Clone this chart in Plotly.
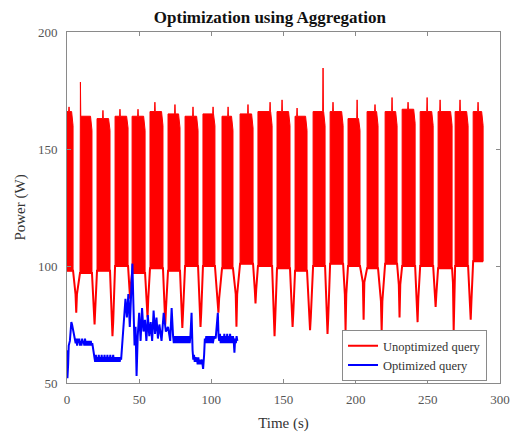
import plotly.graph_objects as go

# ---- Unoptimized query: high-power bursts (s, W) ----
burst_start = [0.0, 9.0, 20.8, 33.3, 45.1, 57.5, 70.0, 81.8, 94.2, 107.4, 119.9, 132.3,
               145.5, 158.0, 170.5, 182.3, 194.7, 207.9, 220.4, 232.2, 244.7, 257.1, 268.9, 281.4]
burst_end = [4.2, 17.3, 29.8, 42.3, 54.1, 66.5, 78.3, 90.8, 102.5, 115.0, 128.9, 142.1,
             154.5, 166.3, 178.8, 191.3, 203.0, 215.5, 228.7, 241.2, 253.7, 266.8, 277.9, 288.3]
burst_body = [166, 164, 163, 164, 164, 166, 165, 164, 165, 164, 165, 166,
              166, 164, 166, 166, 163, 166, 166, 167, 166, 166, 166, 166]
burst_tail = [160, 158, 158, 159, 158, 160, 159, 158, 160, 158, 159, 160,
              160, 158, 160, 160, 158, 160, 160, 161, 160, 160, 160, 160]
burst_peak = [168, 178.6, 166.5, 167, 167, 170, 169, 168, 168, 168, 169, 170,
              171, 167.5, 184.6, 170, 171, 169, 172, 170, 172, 171, 171, 170]
peak_time = [1.4, 9.3, 24.9, 36.7, 49.2, 60.9, 74.8, 87.3, 101.2, 111.6, 125.4, 140.7,
             149.0, 159.4, 177.4, 184.3, 201.0, 213.4, 225.2, 236.3, 249.5, 258.5, 272.3, 284.8]
burst_floor = [98, 97, 98, 100, 97, 99, 98, 100, 100, 99, 101, 100,
               99, 98, 100, 101, 100, 99, 101, 100, 100, 99, 100, 102]

# ---- Unoptimized query: idle dips between bursts ----
dip_time = [6.4, 19.1, 31.5, 43.7, 55.8, 68.1, 79.9, 92.5, 104.9, 117.4, 130.6, 143.8,
            156.3, 168.4, 180.5, 193.0, 205.5, 218.0, 230.4, 242.9, 255.4, 267.9, 279.7]
dip_hold = [88, 82, 76, 92, 86, 82, 80, 80, 86, 88, 90, 78,
            80, 78, 78, 88, 93, 85, 92, 86, 88, 93, 85]
dip_low = [80, 75, 70, 86, 78, 75, 73.5, 74, 80, 74, 84, 70,
           74, 72.6, 71, 72.6, 77, 72, 78, 76, 82.5, 72, 77]

# ---- Optimized query trace (s, W) ----
opt_time = [0.0, 0.3, 0.8, 1.2, 2.0, 2.5, 3.0, 3.5, 4.0, 4.5, 5.0, 5.5, 6.0, 6.5, 7.0, 7.5,
            8.0, 8.5, 9.0, 9.5, 10.0, 10.5, 11.0, 11.5, 12.0, 12.5, 13.0, 13.5, 14.0, 14.5,
            15.0, 15.5, 16.0, 16.5, 17.0, 17.5, 18.2, 19.0, 19.5, 20.0, 20.5, 21.0, 21.5,
            22.0, 22.5, 23.0, 23.5, 24.0, 24.5, 25.0, 25.5, 26.0, 26.5, 27.0, 27.5, 28.0,
            28.5, 29.0, 29.5, 30.0, 30.5, 31.0, 31.5, 32.0, 32.5, 33.0, 33.5, 34.0, 34.5,
            35.0, 35.5, 36.0, 36.5, 37.0, 37.5, 38.5, 39.5, 40.5, 41.5, 42.5, 43.5, 44.5,
            45.3, 46.0, 46.8, 47.5, 48.2, 49.0, 50.0, 51.0, 52.0, 53.0, 54.0, 55.0, 56.0,
            57.0, 58.0, 59.0, 60.0, 61.0, 62.0, 63.0, 64.0, 65.5, 67.0, 68.5, 70.0, 71.5,
            72.5, 73.5, 74.0, 74.5, 75.0, 75.5, 76.0, 76.5, 77.0, 77.5, 78.0, 78.5, 79.0,
            79.5, 80.0, 80.5, 81.0, 81.5, 82.0, 82.5, 83.0, 83.5, 84.0, 84.5, 85.0, 85.5,
            86.3, 87.0, 87.5, 88.0, 88.5, 89.0, 89.5, 90.0, 90.5, 91.0, 91.5, 92.0, 92.5,
            93.5, 94.3, 95.0, 95.5, 96.0, 96.5, 97.0, 97.5, 98.0, 98.5, 99.0, 99.5, 100.0,
            100.5, 101.0, 102.0, 103.0, 104.0, 104.5, 105.0, 105.5, 106.0, 106.5, 107.0,
            107.5, 108.0, 108.5, 109.0, 109.5, 110.0, 110.5, 111.0, 111.5, 112.0, 112.5,
            113.0, 113.5, 114.0, 114.5, 115.0, 115.5, 116.0, 116.5, 117.0, 117.5, 118.0]
opt_power = [64, 52, 58, 66, 68, 74, 76, 75, 73, 72, 70, 69, 67, 69, 66, 69, 67, 69,
             66, 68, 66, 69, 67, 68, 66, 69, 66, 68, 66, 68, 66, 68, 66, 68, 66, 67,
             63, 61, 59, 62, 59, 61, 59, 62, 59, 61, 59, 62, 59, 61, 59, 62, 59, 61,
             59, 62, 59, 61, 59, 62, 59, 61, 59, 62, 59, 61, 59, 61, 59, 61, 59, 61,
             59, 61, 60, 68, 80, 86, 78, 88, 74, 92, 101, 84, 66, 74, 53, 70, 80, 68,
             82, 72, 77, 68, 79, 70, 76, 68, 81, 71, 78, 69, 75, 68, 80, 72, 74, 68,
             82, 70, 67, 70, 67, 70, 67, 70, 67, 70, 67, 70, 67, 70, 67, 70, 67, 70,
             67, 70, 67, 70, 67, 70, 67, 70, 80, 64, 60, 62, 59, 61, 59, 61, 58, 61,
             58, 60, 58, 60, 56, 62, 69, 67, 70, 67, 70, 67, 70, 67, 70, 67, 70, 67,
             70, 69, 77, 80, 70, 68, 71, 67, 70, 67, 70, 67, 71, 67, 70, 67, 71, 67,
             70, 67, 71, 67, 70, 67, 70, 68, 63, 69, 67, 70, 68, 70, 69]

# Build the burst envelopes (filled) and the connecting idle path.
env_x, env_y = [], []
for s, e, b, tl, p, pt, f in zip(burst_start, burst_end, burst_body, burst_tail,
                                 burst_peak, peak_time, burst_floor):
    env_x += [s, s, pt - 0.25, pt, pt + 0.25, e - 1.0, e, e, s, None]
    env_y += [f, b, b, p, b, b, tl, f, f, None]

path_x, path_y = [], []
for i in range(len(burst_start)):
    path_x += [burst_start[i], burst_end[i]]
    path_y += [burst_floor[i], burst_floor[i]]
    if i < len(dip_time):
        path_x += [dip_time[i] - 0.5, dip_time[i], dip_time[i] + 0.5]
        path_y += [dip_hold[i], dip_low[i], dip_hold[i]]

RED = "#ff0000"
BLUE = "#0000ff"
FONT = "Liberation Serif"

fig = go.Figure()
fig.add_trace(go.Scatter(x=env_x, y=env_y, mode="lines", fill="toself",
                         fillcolor=RED, line=dict(color=RED, width=1),
                         showlegend=False, hoverinfo="skip"))
fig.add_trace(go.Scatter(x=path_x, y=path_y, mode="lines",
                         line=dict(color=RED, width=2),
                         name="Unoptimized query"))
fig.add_trace(go.Scatter(x=opt_time, y=opt_power, mode="lines",
                         line=dict(color=BLUE, width=2),
                         name="Optimized query"))

axis_common = dict(showline=True, linecolor="#8a8a8a", linewidth=1, mirror="ticks",
                   ticks="inside", ticklen=4, tickcolor="#8a8a8a", showgrid=False,
                   zeroline=False, automargin=False,
                   tickfont=dict(family=FONT, size=13, color="#555555"))

fig.update_layout(
    width=512, height=432,
    margin=dict(l=67, r=12, t=32, b=49),
    paper_bgcolor="white", plot_bgcolor="white",
    title=dict(text="<b>Optimization using Aggregation</b>", x=0.527, xanchor="center",
               y=0.961, yanchor="middle",
               font=dict(family=FONT, size=17, color="#111111")),
    xaxis=dict(range=[0, 300], tickvals=[0, 50, 100, 150, 200, 250, 300],
               ticklabelstandoff=4,
               title=dict(text="Time (s)", font=dict(family=FONT, size=15, color="#333333"),
                          standoff=12),
               **axis_common),
    yaxis=dict(range=[50, 200], tickvals=[50, 100, 150, 200],
               ticklabelstandoff=6,
               title=dict(text="Power (W)", font=dict(family=FONT, size=15, color="#333333"),
                          standoff=8),
               **axis_common),
    legend=dict(x=0.97, xanchor="right", y=0.005, yanchor="bottom",
                bgcolor="white", bordercolor="#8a8a8a", borderwidth=1,
                font=dict(family=FONT, size=12.5, color="#333333"),
                tracegroupgap=0, itemwidth=30),
    showlegend=True,
)

fig.write_html("out.html")
